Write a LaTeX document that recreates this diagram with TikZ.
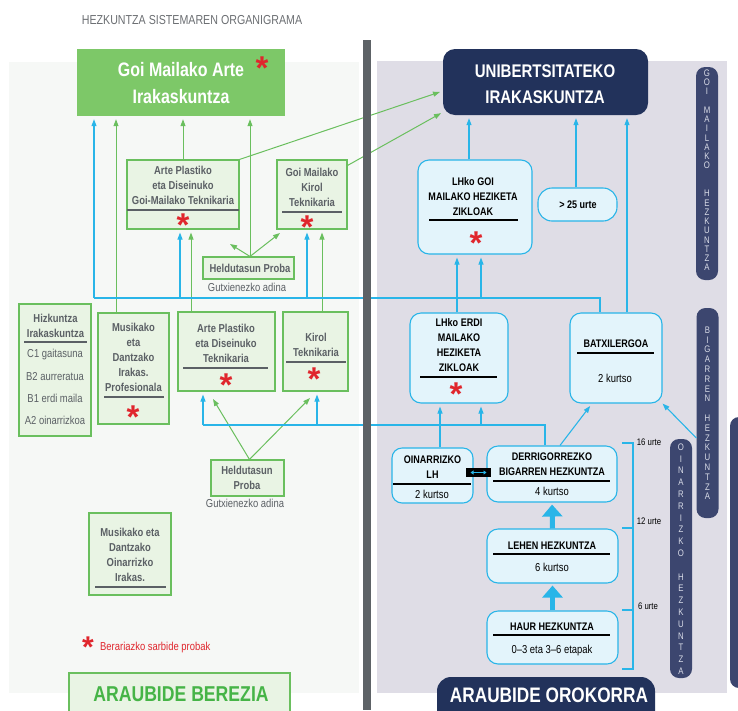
\documentclass[tikz,border=0pt]{standalone}
\usepackage{fontspec}
\setmainfont{Liberation Sans}[FakeStretch=0.82]
\newfontfamily\astfont{Liberation Sans}
\usetikzlibrary{arrows.meta}

\definecolor{grnline}{HTML}{6ABF5E}
\definecolor{grnfill}{HTML}{E9F4E4}
\definecolor{hdrgreen}{HTML}{7DC868}
\definecolor{bgreen}{HTML}{46B447}
\definecolor{leftbg}{HTML}{F6F8F6}
\definecolor{rightbg}{HTML}{DFDDE6}
\definecolor{darkbar}{HTML}{5D6266}
\definecolor{cyl}{HTML}{29B5E8}
\definecolor{cyfill}{HTML}{E3F4FB}
\definecolor{navy}{HTML}{22325B}
\definecolor{pillnavy}{HTML}{3C466F}
\definecolor{pilltext}{HTML}{D9DCE8}
\definecolor{astred}{HTML}{E0262D}
\definecolor{txtgray}{HTML}{5B6065}
\definecolor{titlegray}{HTML}{6B6E72}

\tikzset{
  gbox/.style={draw=grnline, fill=grnfill, line width=1.1pt, inner sep=0pt},
  bbox/.style={draw=cyl, fill=cyfill, line width=1.1pt, rounded corners=11pt, inner sep=0pt},
  gtxt/.style={text=txtgray, font=\bfseries\fontsize{11.5}{15}\selectfont, align=center, inner sep=0pt},
  gsub/.style={text=txtgray, font=\fontsize{11.5}{14}\selectfont, inner sep=0pt, text height=8pt, text depth=0pt},
  btxt/.style={text=black, font=\bfseries\fontsize{11}{15}\selectfont, align=center, inner sep=0pt},
  bsub/.style={text=black, font=\fontsize{11.5}{14}\selectfont, inner sep=0pt, text height=8.3pt, text depth=0pt},
  ast/.style={text=astred, font=\astfont\bfseries\fontsize{33}{33}\selectfont, inner sep=0pt, anchor=north},
  gsep/.style={draw=txtgray, line width=1.8pt},
  bsep/.style={draw=black, line width=1.8pt},
  garrow/.style={draw=grnline, line width=1pt, shorten >=3pt, -{Triangle[width=5pt,length=7pt]}},
  barrow/.style={draw=cyl, line width=1.1pt, shorten >=3pt, -{Triangle[width=5pt,length=7pt]}},
  bline/.style={draw=cyl, line width=1.1pt},
  tharrow/.style={draw=cyl, line width=5pt, shorten >=2pt, -{Triangle[width=20pt,length=12pt]}},
  pill/.style={fill=pillnavy, rounded corners=9pt, minimum width=22pt, inner sep=0pt},
  pilltxt/.style={text=pilltext, font=\fontsize{9.5}{9.5}\selectfont, inner sep=0pt},
  agetxt/.style={text=black, font=\fontsize{9.5}{10}\selectfont, inner sep=0pt}
}

\begin{document}
\begin{tikzpicture}[x=1pt, y=-1pt]
  \useasboundingbox (0,0) rectangle (738,710);
  \clip (0,0) rectangle (738,710);

  % Background panels
  \fill[leftbg] (9,62) rectangle (359,693);
  \fill[rightbg] (377,61) rectangle (727,693);
  \fill[pillnavy, rounded corners=9pt] (730,417) rectangle (770,688);

  \node[font=\fontsize{13}{13}\selectfont, text=titlegray, inner sep=0pt] (title) at (192,20) {HEZKUNTZA SISTEMAREN ORGANIGRAMA};

  % Left side: araubide berezia
  \node[fill=hdrgreen, minimum width=208pt, minimum height=67pt, inner sep=0pt] (hdr) at (181,82.5) {};
  \node[font=\bfseries\fontsize{19.5}{26.5}\selectfont, text=white, align=center, inner sep=0pt] (hdrt) at (181,83) {Goi Mailako Arte\\Irakaskuntza};
  \node[ast] (hdra) at (262,57) {*};

  \node[gbox, minimum width=112pt, minimum height=69pt] (apg) at (183,194.5) {};
  \node[gtxt] (apgt) at (183,185.5) {Arte Plastiko\\eta Diseinuko\\Goi-Mailako Teknikaria};
  \draw[gsep] (127,210) -- (239,210);
  \node[ast] (apga) at (183,214) {*};

  \node[gbox, minimum width=70pt, minimum height=69pt] (kg) at (312,194.5) {};
  \node[gtxt] (kgt) at (312,187.5) {Goi Mailako\\Kirol\\Teknikaria};
  \draw[gsep] (282,212) -- (342,212);
  \node[ast] (kga) at (307,216) {*};

  \node[gbox, minimum width=91pt, minimum height=22pt] (hp1) at (248.5,268) {};
  \node[gtxt] (hp1t) at (250,268) {Heldutasun Proba};
  \node[gsub] (hp1s) at (247,287) {Gutxienezko adina};

  \node[gbox, minimum width=72pt, minimum height=132pt] (hiz) at (55,370) {};
  \node[gtxt] (hizt) at (55.5,325.5) {Hizkuntza\\Irakaskuntza};
  \draw[gsep] (24,342) -- (87,342);
  \foreach \t/\y [count=\i] in {C1 gaitasuna/353, B2 aurreratua/376, B1 erdi maila/398, A2 oinarrizkoa/420}
    \node[gsub] (lv\i) at (55,\y) {\t};

  \node[gbox, minimum width=71pt, minimum height=111pt] (mus) at (133.5,368.5) {};
  \node[gtxt] (must) at (133.5,357.5) {Musikako\\eta\\Dantzako\\Irakas.\\Profesionala};
  \draw[gsep] (104,397) -- (164,397);
  \node[ast] (musa) at (133,406) {*};

  \node[gbox, minimum width=97pt, minimum height=79pt] (apt) at (226.5,351.5) {};
  \node[gtxt] (aptt) at (226,343.5) {Arte Plastiko\\eta Diseinuko\\Teknikaria};
  \draw[gsep] (183,368) -- (268,368);
  \node[ast] (apta) at (226,374) {*};

  \node[gbox, minimum width=65pt, minimum height=79pt] (kt) at (315.5,351.5) {};
  \node[gtxt] (ktt) at (316,344.5) {Kirol\\Teknikaria};
  \draw[gsep] (286,362) -- (346,362);
  \node[ast] (kta) at (314,368) {*};

  \node[gbox, minimum width=73pt, minimum height=36pt] (hp2) at (247.5,478) {};
  \node[gtxt] (hp2t) at (247,477.5) {Heldutasun\\Proba};
  \node[gsub] (hp2s) at (245,503) {Gutxienezko adina};

  \node[gbox, minimum width=82pt, minimum height=82pt] (muso) at (130,554) {};
  \node[gtxt] (musot) at (130,554.5) {Musikako eta\\Dantzako\\Oinarrizko\\Irakas.};
  \draw[gsep] (95,587) -- (166,587);

  % Legend
  \node[ast, font=\astfont\bfseries\fontsize{30}{30}\selectfont] (lega) at (88,637) {*};
  \node[text=astred, font=\fontsize{11.5}{12}\selectfont, inner sep=0pt, anchor=west, text height=8.3pt, text depth=0pt] (legt) at (100,646) {Berariazko sarbide probak};

  \node[gbox, minimum width=221pt, minimum height=48pt] (berezia) at (179.5,697) {};
  \node[font=\bfseries\fontsize{21.5}{22}\selectfont, text=bgreen, inner sep=0pt] (bereziat) at (181,694) {ARAUBIDE BEREZIA};

  % Right side: araubide orokorra
  \node[fill=navy, rounded corners=12pt, minimum width=205pt, minimum height=66pt, inner sep=0pt] (uni) at (545.5,82) {};
  \node[font=\bfseries\fontsize{18.3}{26}\selectfont, text=white, align=center, inner sep=0pt] (unit) at (545,84) {UNIBERTSITATEKO\\IRAKASKUNTZA};

  \node[bbox, minimum width=114pt, minimum height=94pt] (lgoi) at (475,207) {};
  \node[btxt] (lgoit) at (473,196.5) {LHko GOI\\MAILAKO HEZIKETA\\ZIKLOAK};
  \draw[bsep] (429,220) -- (518,220);
  \node[ast] (lgoia) at (476,232) {*};

  \node[bbox, rounded corners=14pt, minimum width=79pt, minimum height=33pt] (p25) at (577.5,204.5) {};
  \node[btxt] (p25t) at (578,204.5) {> 25 urte};

  \node[bbox, minimum width=98pt, minimum height=90pt] (lerdi) at (459,358) {};
  \node[btxt] (lerdit) at (459,345.5) {LHko ERDI\\MAILAKO\\HEZIKETA\\ZIKLOAK};
  \draw[bsep] (420,377) -- (497,377);
  \node[ast] (lerdia) at (456,383) {*};

  \node[bbox, minimum width=92pt, minimum height=90pt] (batx) at (616,358) {};
  \node[btxt] (batxt) at (616,344) {BATXILERGOA};
  \draw[bsep] (577,353) -- (654,353);
  \node[bsub] (batxs) at (615,378) {2 kurtso};

  \node[bbox, rounded corners=10pt, minimum width=81pt, minimum height=55pt] (olh) at (432.5,475.5) {};
  \node[btxt] (olht) at (432.5,467.5) {OINARRIZKO\\LH};
  \draw[bsep] (393,484) -- (471,484);
  \node[bsub] (olhs) at (432,494) {2 kurtso};

  \node[bbox, minimum width=130pt, minimum height=56pt] (dbh) at (552,474) {};
  \node[btxt] (dbht) at (552,464) {DERRIGORREZKO\\BIGARREN HEZKUNTZA};
  \draw[bsep] (493,481) -- (610,481);
  \node[bsub] (dbhs) at (552,491) {4 kurtso};

  \node[fill=black, minimum width=25pt, minimum height=9pt, inner sep=0pt] (dbl) at (478.5,472.5) {};
  \draw[cyl, line width=1pt, {Triangle[width=4pt,length=3pt]}-{Triangle[width=4pt,length=3pt]}] ([xshift=-8pt]dbl.center) -- ([xshift=8pt]dbl.center);

  \node[bbox, minimum width=131pt, minimum height=54pt] (lehen) at (552.5,556) {};
  \node[btxt] (lehent) at (552,546) {LEHEN HEZKUNTZA};
  \draw[bsep] (493,554) -- (610,554);
  \node[bsub] (lehens) at (552,567) {6 kurtso};

  \node[bbox, minimum width=131pt, minimum height=53pt] (haur) at (552.5,637.5) {};
  \node[btxt] (haurt) at (552,627) {HAUR HEZKUNTZA};
  \draw[bsep] (493,635) -- (610,635);
  \node[bsub] (haurs) at (552,649) {0--3 eta 3--6 etapak};

  \node[fill=navy, rounded corners=14pt, minimum width=218pt, minimum height=56pt, inner sep=0pt] (orok) at (546,705) {};
  \node[font=\bfseries\fontsize{21}{22}\selectfont, text=white, inner sep=0pt] (orokt) at (549,695) {ARAUBIDE OROKORRA};

  % Age bracket
  \draw[cyl, line width=1.2pt] (622,443) -- (633,443) -- (633,669) -- (622,669);
  \foreach \y in {528,610}
    \draw[cyl, line width=1.2pt] (622,\y) -- (633,\y);
  \node[agetxt] (age16) at (649,442) {16 urte};
  \node[agetxt] (age12) at (649,521) {12 urte};
  \node[agetxt] (age6) at (648,606) {6 urte};

  % Vertical level labels
  \node[pill, minimum height=213pt] (pillg) at (707,173.5) {};
  \foreach \l/\k [count=\i] in {G/0,O/1,I/2,M/4,A/5,I/6,L/7,A/8,K/9,O/10,H/13,E/14,Z/15,K/16,U/17,N/18,T/19,Z/20,A/21}
    \node[pilltxt] (pg\i) at (707,73+9.27*\k) {\l};
  \node[pill, minimum height=210pt] (pillb) at (707.5,413) {};
  \foreach \l/\k [count=\i] in {B/0,I/1,G/2,A/3,R/4,R/5,E/6,N/7,H/9,E/10,Z/11,K/12,U/13,N/14,T/15,Z/16,A/17}
    \node[pilltxt] (pb\i) at (707.5,330+9.8*\k) {\l};
  \node[pill, minimum height=239pt] (pillo) at (681,558.5) {};
  \foreach \l/\k [count=\i] in {O/0,I/1,N/2,A/3,R/4,R/5,I/6,Z/7,K/8,O/9,H/11,E/12,Z/13,K/14,U/15,N/16,T/17,Z/18,A/19}
    \node[pilltxt] (po\i) at (681,447+11.8*\k) {\l};

  % Green connectors
  \draw[garrow] ([xshift=-17.5pt]mus.north) -- ([xshift=-17.5pt]mus.north |- hdr.south);
  \draw[garrow] (apg.north) -- (apg.north |- hdr.south);
  \draw[garrow] ([xshift=1.5pt]hp1.north) -- ([xshift=1.5pt]hp1.north |- hdr.south);
  \coordinate (hp1l) at (230,244);
  \coordinate (hp1r) at (280,233);
  \draw[garrow, shorten >=0pt] ([xshift=1.5pt]hp1.north) -- (hp1l);
  \draw[garrow, shorten >=0pt] ([xshift=1.5pt]hp1.north) -- (hp1r);
  \draw[garrow] ([xshift=-35.5pt]apt.north) -- ([xshift=-35.5pt]apt.north |- apg.south);
  \draw[garrow] ([xshift=6.5pt]kt.north) -- ([xshift=6.5pt]kt.north |- kg.south);
  \coordinate (hp2l) at (213,399);
  \coordinate (hp2r) at (310,398);
  \draw[garrow, shorten >=0pt] ([xshift=2pt]hp2.north) -- (hp2l);
  \draw[garrow, shorten >=0pt] ([xshift=2pt]hp2.north) -- (hp2r);
  \draw[garrow] (apg.north east) -- ([yshift=-9pt]uni.west);
  \draw[garrow, shorten >=2pt] ([yshift=-6pt]kg.north east) -- ([yshift=3pt]uni.south west);

  % Blue connectors, upper tree
  \coordinate (tl) at (94,298);
  \coordinate (tr) at (600,298);
  \draw[barrow] (tl) -- (tl |- hdr.south);
  \draw[bline] (tl) -- (tr) -- (tr |- batx.north);
  \draw[barrow] ([xshift=-3pt]apg.south |- tl) -- ([xshift=-3pt]apg.south);
  \draw[barrow] ([xshift=-5pt]kg.south |- tl) -- ([xshift=-5pt]kg.south);
  \draw[barrow] ([xshift=-2pt]lerdi.north) -- ([xshift=-2pt]lerdi.north |- lgoi.south);
  \draw[barrow] ([xshift=22pt]lerdi.north |- tl) -- ([xshift=22pt]lerdi.north |- lgoi.south);

  % Blue connectors, lower tree
  \coordinate (bl) at (203,425);
  \coordinate (br) at (545,425);
  \draw[barrow] (bl) -- (bl |- apt.south);
  \draw[bline] (bl) -- (br) -- (br |- dbh.north);
  \draw[barrow] ([xshift=1.5pt]kt.south |- bl) -- ([xshift=1.5pt]kt.south);
  \draw[barrow] ([xshift=7.5pt]olh.north) -- ([xshift=7.5pt]olh.north |- lerdi.south);
  \draw[barrow] ([xshift=22pt]lerdi.south |- bl) -- ([xshift=22pt]lerdi.south);

  % Blue connectors into university
  \draw[barrow] ([xshift=-6pt]lgoi.north) -- ([xshift=-6pt]lgoi.north |- uni.south);
  \draw[barrow] ([xshift=-1.5pt]p25.north) -- ([xshift=-1.5pt]p25.north |- uni.south);
  \draw[barrow] ([xshift=11pt]batx.north) -- ([xshift=11pt]batx.north |- uni.south);
  \draw[barrow] ([xshift=8pt]dbh.north) -- ([xshift=-24pt]batx.south);
  \draw[barrow, shorten >=0pt] ([yshift=-25pt]pillb.west) -- (batx.south east);

  % Thick steps
  \draw[tharrow] (lehen.north) -- (dbh.south);
  \draw[tharrow] (haur.north) -- (lehen.south);

  % Divider
  \fill[darkbar] (363,40) rectangle (371,710);
\end{tikzpicture}
\end{document}
